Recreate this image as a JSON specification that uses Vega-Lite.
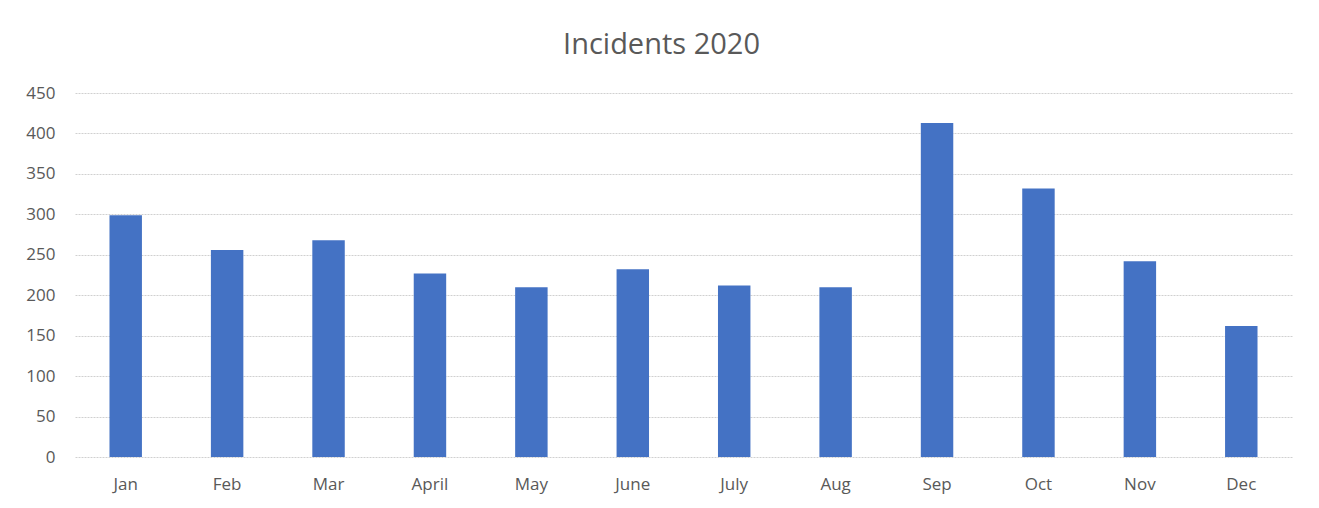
{
  "$schema": "https://vega.github.io/schema/vega-lite/v6.json",
  "autosize": {"type": "none"},
  "padding": {"left": 75, "top": 93, "right": 27, "bottom": 51},
  "width": 1217,
  "height": 364,
  "background": "white",
  "title": {
    "text": "Incidents 2020",
    "font": "Open Sans",
    "fontSize": 29,
    "fontWeight": "normal",
    "color": "#595959",
    "anchor": "middle",
    "offset": 24,
    "dx": -22
  },
  "data": {
    "values": [
      {"month": "Jan", "incidents": 299},
      {"month": "Feb", "incidents": 256},
      {"month": "Mar", "incidents": 268},
      {"month": "April", "incidents": 227},
      {"month": "May", "incidents": 210},
      {"month": "June", "incidents": 232},
      {"month": "July", "incidents": 212},
      {"month": "Aug", "incidents": 210},
      {"month": "Sep", "incidents": 413},
      {"month": "Oct", "incidents": 332},
      {"month": "Nov", "incidents": 242},
      {"month": "Dec", "incidents": 162}
    ]
  },
  "mark": {"type": "bar", "color": "#4472C4"},
  "encoding": {
    "x": {
      "field": "month",
      "type": "nominal",
      "sort": null,
      "scale": {"paddingInner": 0.68, "paddingOuter": 0.34},
      "axis": {
        "title": null,
        "labelAngle": 0,
        "labelFont": "Open Sans",
        "labelFontSize": 17,
        "labelColor": "#595959",
        "labelPadding": 19,
        "ticks": false,
        "domain": false,
        "grid": false
      }
    },
    "y": {
      "field": "incidents",
      "type": "quantitative",
      "scale": {"domain": [0, 450], "nice": false},
      "axis": {
        "title": null,
        "values": [0, 50, 100, 150, 200, 250, 300, 350, 400, 450],
        "labelFont": "Open Sans",
        "labelFontSize": 17,
        "labelColor": "#595959",
        "labelPadding": 20,
        "ticks": false,
        "domain": false,
        "grid": true,
        "gridColor": "#d0d0d0",
        "gridDash": [2, 1],
        "gridWidth": 1
      }
    }
  },
  "config": {"view": {"stroke": null}}
}
